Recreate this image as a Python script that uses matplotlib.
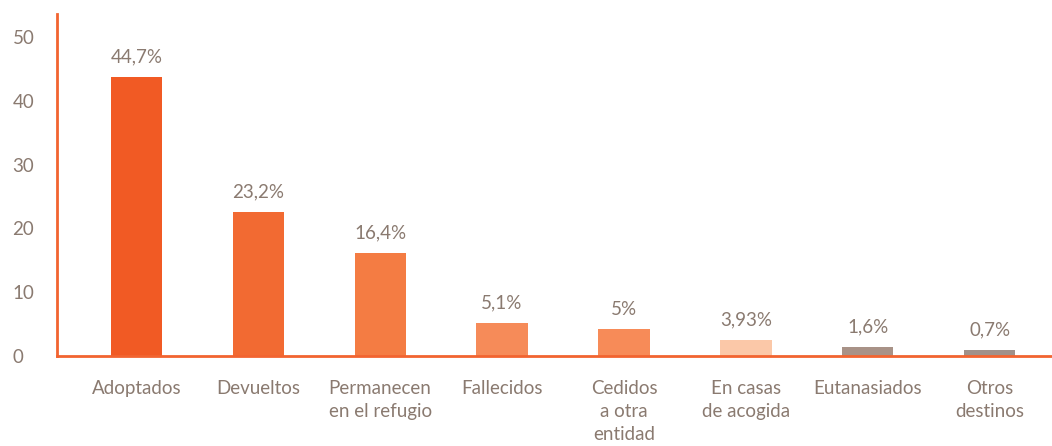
import matplotlib
matplotlib.use('Agg')
import matplotlib.pyplot as plt

plt.rcParams['font.family'] = ['Lato', 'DejaVu Sans']

categorias = ["Adoptados", "Devueltos", "Permanecen\nen el refugio", "Fallecidos",
              "Cedidos\na otra\nentidad", "En casas\nde acogida", "Eutanasiados", "Otros\ndestinos"]
valores = [43.7, 22.5, 16.1, 5.2, 4.2, 2.5, 1.4, 0.9]
etiquetas = ["44,7%", "23,2%", "16,4%", "5,1%", "5%", "3,93%", "1,6%", "0,7%"]
colores = ["#F15A24", "#F26A32", "#F47C43", "#F68B59", "#F78B58", "#FBC8A8", "#A89287", "#A0918A"]

texto = "#8A7A70"
naranja = "#F26430"

fig = plt.figure(figsize=(10.52, 4.46), dpi=100)
ax = fig.add_axes([0.0542, 0.2018, 0.9458, 0.7668])

x = list(range(len(categorias)))
ax.bar(x, valores, width=0.42, color=colores, zorder=2)

for xi, v, et in zip(x, valores, etiquetas):
    ax.annotate(et, (xi, v), xytext=(0, 14.5), textcoords='offset points',
                ha='center', va='center', fontsize=13.5, color=texto)

ax.set_xlim(-0.65, 7.51)
ax.set_ylim(0, 53.6)
ax.set_yticks([0, 10, 20, 30, 40, 50])
ax.set_xticks(x)
ax.set_xticklabels(categorias, fontsize=13.5, color=texto, va='top', linespacing=1.45)

for s in ['top', 'right']:
    ax.spines[s].set_visible(False)
ax.spines['left'].set_color(naranja)
ax.spines['bottom'].set_color(naranja)
ax.spines['left'].set_linewidth(2)
ax.spines['bottom'].set_linewidth(2)

ax.tick_params(axis='x', length=0, pad=17)
ax.tick_params(axis='y', length=0, pad=32, labelsize=13.5, labelcolor=texto)
for lbl in ax.get_yticklabels():
    lbl.set_horizontalalignment('left')

fig.savefig('out.png', dpi=100)
